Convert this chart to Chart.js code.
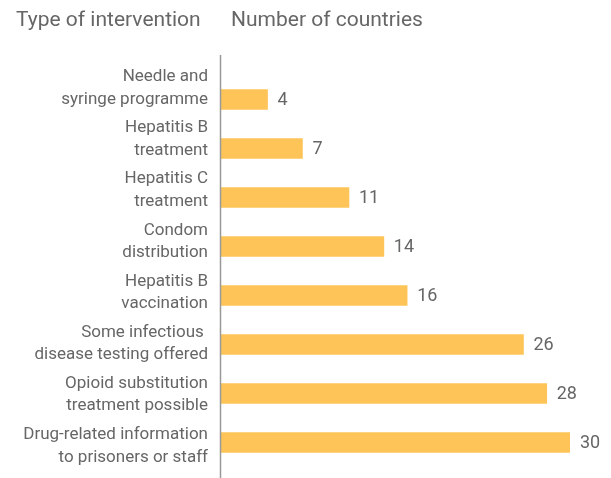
<!DOCTYPE html>
<html>
<head>
<meta charset="utf-8">
<script src="https://cdn.jsdelivr.net/npm/chart.js@4/dist/chart.umd.min.js"></script>
<style>
  html, body { margin: 0; padding: 0; background: #fff; }
  #wrap { width: 611px; height: 478px; }
</style>
</head>
<body>
<div id="wrap"><canvas id="chart"></canvas></div>
<script>
// Categorías (cada una en dos líneas) y valores
const interventions = [
    ['Needle and', 'syringe programme'],
    ['Hepatitis B', 'treatment'],
    ['Hepatitis C', 'treatment'],
    ['Condom', 'distribution'],
    ['Hepatitis B', 'vaccination'],
    ['Some infectious ', 'disease testing offered'],
    ['Opioid substitution', 'treatment possible'],
    ['Drug-related information', 'to prisoners or staff']
];
const countries = [4, 7, 11, 14, 16, 26, 28, 30];

const leftTitle = 'Type of intervention';
const rightTitle = 'Number of countries';

const fontName = 'Roboto, "Liberation Sans", sans-serif';
const textGray = '#666666';

// Títulos, línea del eje y etiquetas de valores
const extras = {
    id: 'extras',
    afterDraw(chart) {
        const ctx = chart.ctx;
        const area = chart.chartArea;
        ctx.save();
        ctx.fillStyle = textGray;
        ctx.font = '21px ' + fontName;
        ctx.textBaseline = 'middle';
        ctx.textAlign = 'left';
        ctx.fillText(leftTitle, 16, 21);
        ctx.fillText(rightTitle, 231, 21);

        // línea vertical del eje
        ctx.strokeStyle = '#999999';
        ctx.lineWidth = 1.5;
        ctx.beginPath();
        ctx.moveTo(area.left - 0.5, 55);
        ctx.lineTo(area.left - 0.5, chart.height);
        ctx.stroke();

        // valores al final de cada barra
        ctx.font = '18px ' + fontName;
        const meta = chart.getDatasetMeta(0);
        meta.data.forEach((bar, i) => {
            ctx.fillText(countries[i], bar.x + 10, bar.y + 1);
        });
        ctx.restore();
    }
};

new Chart(document.getElementById('chart'), {
    type: 'bar',
    data: {
        labels: interventions,
        datasets: [{
            data: countries,
            backgroundColor: '#FEC458',
            borderWidth: 0,
            barThickness: 20
        }]
    },
    options: {
        indexAxis: 'y',
        responsive: true,
        maintainAspectRatio: false,
        animation: false,
        layout: { padding: { top: 75, bottom: 11, right: 41, left: 0 } },
        plugins: {
            legend: { display: false },
            tooltip: { enabled: false }
        },
        scales: {
            x: {
                display: false,
                min: 0,
                max: 30
            },
            y: {
                display: false
            },
            // eje aparte solo para los textos (un poco más espaciados que las barras)
            yLabels: {
                type: 'linear',
                position: 'left',
                reverse: true,
                offset: false,
                min: -0.26,
                max: 7.41,
                grid: { display: false, drawTicks: false },
                border: { display: false },
                afterBuildTicks(scale) {
                    scale.ticks = interventions.map((l, i) => ({ value: i }));
                },
                afterFit(scale) {
                    scale.width = 221;
                    scale.paddingTop = 0;
                    scale.paddingBottom = 0;
                },
                ticks: {
                    autoSkip: false,
                    color: textGray,
                    padding: 13,
                    font: { family: fontName, size: 17, lineHeight: 1.33 },
                    callback: (value, index) => interventions[index]
                }
            }
        }
    },
    plugins: [extras]
});
</script>
</body>
</html>
